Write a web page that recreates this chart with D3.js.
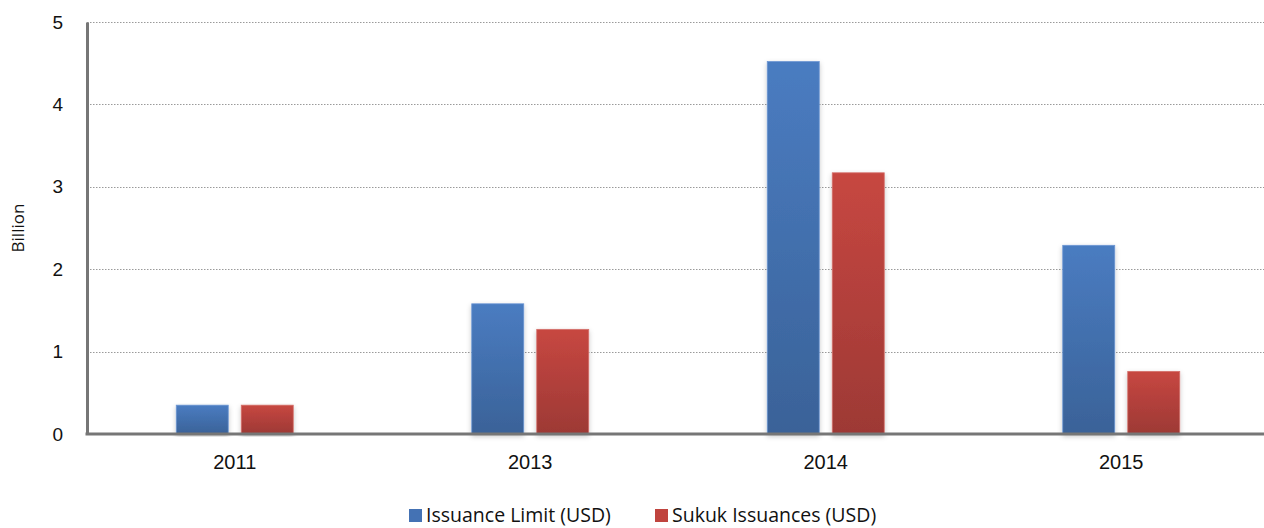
<!DOCTYPE html>
<html>
<head>
<meta charset="utf-8">
<script src="https://cdn.jsdelivr.net/npm/d3@7"></script>
<style>
  html, body { margin: 0; padding: 0; background: #fff; }
  svg { display: block; font-family: "Open Sans", "DejaVu Sans", sans-serif; }
</style>
</head>
<body>
<svg id="chart" width="1264" height="528"></svg>
<script>
// Sukuk issuance by year (USD billion)
const years = ["2011", "2013", "2014", "2015"];
const issuanceLimit = [0.35, 1.58, 4.52, 2.29];
const sukukIssuances = [0.35, 1.27, 3.17, 0.76];
const seriesNames = ["Issuance Limit (USD)", "Sukuk Issuances (USD)"];
const yTicks = [0, 1, 2, 3, 4, 5];

const svg = d3.select("#chart");
const W = 1264, H = 528;
const margin = { left: 87, right: 2, top: 22, bottom: 94 };

// category band extends a little past the right edge of the canvas
const x = d3.scaleBand().domain(years).range([margin.left, 1269]);
const y = d3.scaleLinear().domain([0, 5]).range([H - margin.bottom, margin.top]);

// gradients for bar fill
const defs = svg.append("defs");
const grads = [
  { id: "gBlue", top: "#4a7cc1", bottom: "#3a6298" },
  { id: "gRed", top: "#c74741", bottom: "#9d3935" }
];
grads.forEach(g => {
  const lg = defs.append("linearGradient").attr("id", g.id)
    .attr("x1", 0).attr("y1", 0).attr("x2", 0).attr("y2", 1);
  lg.append("stop").attr("offset", "0%").attr("stop-color", g.top);
  lg.append("stop").attr("offset", "100%").attr("stop-color", g.bottom);
});
const shadow = defs.append("filter").attr("id", "shadow")
  .attr("x", "-20%").attr("y", "-5%").attr("width", "140%").attr("height", "115%");
shadow.append("feDropShadow").attr("dx", 0).attr("dy", 2).attr("stdDeviation", 2.5)
  .attr("flood-color", "#000").attr("flood-opacity", 0.22);

// horizontal gridlines
svg.append("g").selectAll("line").data(yTicks.filter(t => t > 0)).join("line")
  .attr("x1", margin.left).attr("x2", W)
  .attr("y1", d => Math.round(y(d)) + 0.5).attr("y2", d => Math.round(y(d)) + 0.5)
  .attr("stroke", "#9a9a9a").attr("stroke-width", 1).attr("stroke-dasharray", "1.5,1.5");

// bars
const barW = 52, gap = 13;
const series = [
  { values: issuanceLimit, fill: "url(#gBlue)", stroke: "#6d97d3", offset: -gap / 2 - barW },
  { values: sukukIssuances, fill: "url(#gRed)", stroke: "#d5726c", offset: gap / 2 }
];
series.forEach(s => {
  svg.append("g").selectAll("rect").data(years).join("rect")
    .attr("x", (d) => x(d) + x.bandwidth() / 2 + s.offset)
    .attr("y", (d, i) => y(s.values[i]))
    .attr("width", barW)
    .attr("height", (d, i) => y(0) - y(s.values[i]))
    .attr("fill", s.fill)
    .attr("stroke", s.stroke).attr("stroke-width", 0.8)
    .attr("filter", "url(#shadow)");
});

// y axis
const yAxis = svg.append("g").attr("transform", `translate(${margin.left},0)`)
  .call(d3.axisLeft(y).tickValues(yTicks).tickSize(0).tickPadding(24).tickFormat(d3.format("d")));
yAxis.select(".domain").attr("stroke", "#767676").attr("stroke-width", 3);
yAxis.selectAll("text").attr("font-size", 19).attr("fill", "#111");

// x axis
const xAxis = svg.append("g").attr("transform", `translate(0,${y(0)})`)
  .call(d3.axisBottom(x).tickSize(0).tickPadding(21));
xAxis.select(".domain").attr("stroke", "#767676").attr("stroke-width", 3)
  .attr("d", `M${margin.left - 1.5},0H${W}`);
xAxis.selectAll("text").attr("font-size", 20).attr("fill", "#111");

// y axis title
svg.append("text")
  .attr("transform", `translate(24,${(y(0) + y(5)) / 2}) rotate(-90)`)
  .attr("text-anchor", "middle").attr("font-size", 17).attr("fill", "#111")
  .text("Billion");

// legend
const legendItems = [
  { name: seriesNames[0], color: "#4472b4", x: 409 },
  { name: seriesNames[1], color: "#c0443e", x: 655 }
];
const lg = svg.append("g");
legendItems.forEach(it => {
  lg.append("rect").attr("x", it.x).attr("y", 509).attr("width", 13).attr("height", 13)
    .attr("fill", it.color);
  lg.append("text").attr("x", it.x + 17).attr("y", 522)
    .attr("font-size", 19.5).attr("fill", "#111").text(it.name);
});
</script>
</body>
</html>
